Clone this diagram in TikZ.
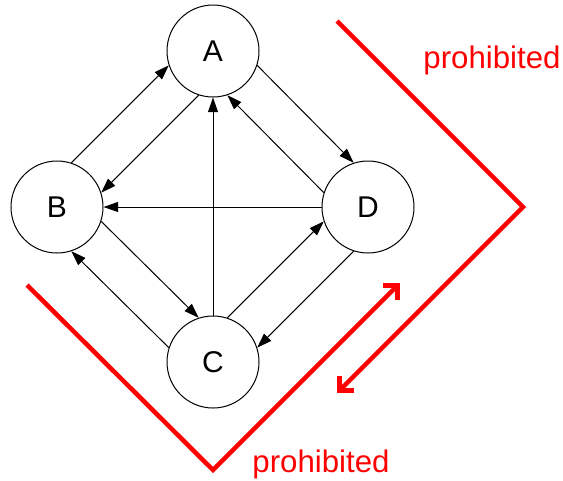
\documentclass[tikz,border=0pt]{standalone}
\usepackage{fontspec}
\setmainfont{Liberation Sans}
\usetikzlibrary{arrows.meta}
\begin{document}
\begin{tikzpicture}[x=0.75pt,y=-0.75pt,
  st/.style={circle,draw,line width=0.75pt,minimum size=69pt,inner sep=0pt,font=\fontsize{22.5}{27}\selectfont},
  ar/.style={line width=0.75pt,-{Triangle[length=11pt,width=7.5pt]}},
  wall/.style={draw=red,line width=3.4pt,line join=miter,-{Straight Barb[length=8pt,width=16pt,line join=miter,line cap=butt]}},
  lbl/.style={text=red,font=\fontsize{23.4}{28}\selectfont,anchor=base,inner sep=0pt}]
\useasboundingbox (0,0) rectangle (563,480);
\node[st] (A) at (213,51) {A};
\node[st] (B) at (57,207) {B};
\node[st] (C) at (213,362) {C};
\node[st] (D) at (368,207) {D};
% A-B
\draw[ar] (B.72) -- (A.198);
\draw[ar] (A.252) -- (B.18);
% A-D
\draw[ar] (A.-18) -- (D.108);
\draw[ar] (D.162) -- (A.-72);
% D-B
\draw[ar] (D.180) -- (B.0);
% C-A
\draw[ar] (C.90) -- (A.270);
% B-C
\draw[ar] (B.-18) -- (C.108);
\draw[ar] (C.162) -- (B.-72);
% C-D
\draw[ar] (C.72) -- (D.198);
\draw[ar] (D.252) -- (C.18);
% walls
\coordinate (r1) at (337,21);
\coordinate (r2) at (523,207);
\coordinate (r3) at (337,393);
\coordinate (v1) at (27,285);
\coordinate (v2) at (213,470);
\coordinate (v3) at (400,283);
\draw[wall] (r1) -- (r2) -- (r3);
\draw[wall] (v1) -- (v2) -- (v3);
\node[lbl] (p1) at (492,68) {prohibited};
\node[lbl] (p2) at (321,472) {prohibited};
\end{tikzpicture}
\end{document}
